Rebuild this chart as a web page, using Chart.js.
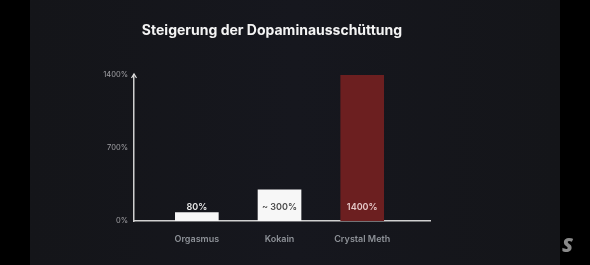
<!DOCTYPE html>
<html>
<head>
<meta charset="utf-8">
<script src="https://cdn.jsdelivr.net/npm/chart.js@4"></script>
<style>
  html, body { margin: 0; padding: 0; }
  body {
    width: 590px; height: 265px; overflow: hidden;
    background: linear-gradient(to right, #000 0, #000 30px, #141519 30px, #16171e 50%, #141519 560px, #000 560px, #000 100%);
    position: relative;
  }
  #wrap { position: absolute; left: 0; top: 0; width: 590px; height: 265px; }
  #logo {
    position: absolute; left: 562px; top: 231px;
    font: italic 900 20px "Open Sans", sans-serif; color: #8a8a8a;
  }
</style>
</head>
<body>
<div id="wrap"><canvas id="myChart" width="590" height="265"></canvas></div>
<div id="logo">S</div>
<script>
const categories = ["Orgasmus", "Kokain", "Crystal Meth"];
const values = [80, 300, 1400];
const valueLabels = ["80%", "~ 300%", "1400%"];
const yTicks = [0, 700, 1400];
const titleText = "Steigerung der Dopaminausschüttung";

const barColors = ["#f7f7f7", "#f7f7f7", "#6c1f20"];
const labelColors = ["#e8e8e8", "#4a4a4a", "#e6c8c8"];

// title, value labels and arrow on the y axis
const extras = {
  id: "extras",
  afterDatasetsDraw(chart) {
    const ctx = chart.ctx;
    const meta = chart.getDatasetMeta(0);
    const y0 = chart.scales.y.getPixelForValue(0);
    ctx.save();
    ctx.textAlign = "center";
    ctx.textBaseline = "middle";
    ctx.font = "bold 14px Inter, sans-serif";
    ctx.fillStyle = "#f4f4f4";
    ctx.fillText(titleText, 272, 31);
    ctx.font = "600 9px Inter, sans-serif";
    meta.data.forEach((bar, i) => {
      ctx.fillStyle = labelColors[i];
      ctx.fillText(valueLabels[i], bar.x, y0 - 14);
    });
    // arrow head
    const ax = chart.chartArea.left;
    const ay = chart.scales.y.top;
    ctx.strokeStyle = "#dddddd";
    ctx.lineWidth = 1.2;
    ctx.beginPath();
    ctx.moveTo(ax - 2.5, ay + 3);
    ctx.lineTo(ax, ay - 1);
    ctx.lineTo(ax + 2.5, ay + 3);
    ctx.stroke();
    ctx.restore();
  }
};

const ctx = document.getElementById("myChart").getContext("2d");
const myChart = new Chart(ctx, {
  type: "bar",
  data: {
    datasets: [{
      data: values.map((v, i) => ({ x: i, y: v })),
      backgroundColor: barColors,
      borderWidth: 0,
      barThickness: 43,
    }],
  },
  options: {
    responsive: false,
    animation: false,
    layout: { padding: { top: 75, right: 160, bottom: 0, left: 0 } },
    plugins: {
      legend: { display: false },
      tooltip: { enabled: false },
      title: { display: false },
    },
    scales: {
      x: {
        type: "linear",
        offset: false,
        min: -0.76,
        max: 2.82,
        grid: { display: false, drawTicks: false, offset: false },
        border: { color: "#d0d0d0", width: 1.5 },
        afterBuildTicks: (scale) => { scale.ticks = categories.map((c, i) => ({ value: i })); },
        afterFit: (scale) => { scale.height = 44; },
        ticks: {
          padding: 13,
          color: "#8e9298",
          font: { family: "Inter", size: 9, weight: "600" },
          callback: (v) => categories[v],
        },
      },
      y: {
        min: 0,
        max: 1400,
        grid: { display: false, drawTicks: false },
        border: { color: "#d0d0d0", width: 1.5 },
        afterBuildTicks: (scale) => { scale.ticks = yTicks.map((v) => ({ value: v })); },
        afterFit: (scale) => { scale.width = 134; },
        ticks: {
          padding: 6,
          color: "#a0a0a4",
          font: { family: "Inter", size: 7.5 },
          callback: (v) => v + "%",
        },
      },
    },
  },
  plugins: [extras],
});
</script>
</body>
</html>
